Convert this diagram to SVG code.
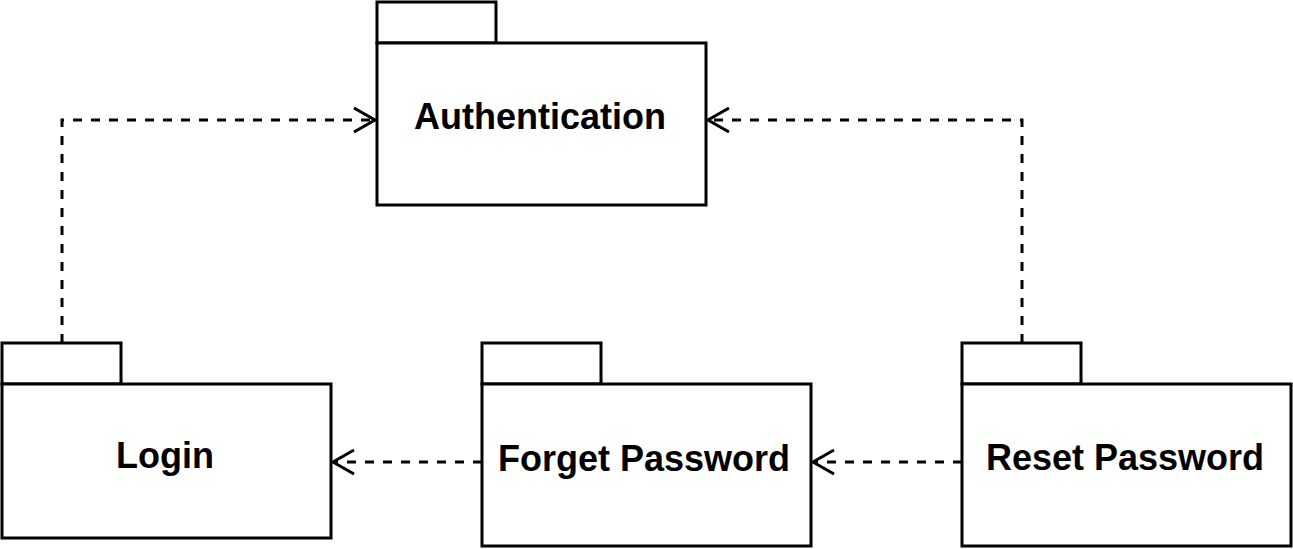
<svg xmlns="http://www.w3.org/2000/svg" width="1293" height="549" viewBox="0 0 1293 549">
  <style>
    .pkg { fill: #ffffff; stroke: #000000; stroke-width: 3; }
    .lbl { font-family: "Liberation Sans", Arial, sans-serif; font-weight: bold; font-size: 36px; fill: #000000; text-anchor: middle; }
    .dep { fill: none; stroke: #000000; stroke-width: 3; stroke-dasharray: 9 9; marker-end: url(#open); }
  </style>
  <defs>
    <marker id="open" markerUnits="userSpaceOnUse" markerWidth="30" markerHeight="30" viewBox="-24 -15 30 30" refX="0" refY="0" orient="auto" overflow="visible">
      <path d="M-21,-12 L0,0 L-21,12" fill="none" stroke="#000000" stroke-width="3"/>
    </marker>
  </defs>
  <rect width="1293" height="549" fill="#ffffff"/>
  <g id="connectors">
    <path class="dep" d="M62,343 V120 H375"/>
    <path class="dep" d="M1022,343 V120 H708"/>
    <path class="dep" d="M482,462 H333"/>
    <path class="dep" d="M962,462 H813"/>
  </g>
  <g id="authentication">
    <rect class="pkg" x="377" y="2" width="119" height="41"/>
    <rect class="pkg" x="377" y="43" width="329" height="162"/>
    <text class="lbl" x="540" y="129">Authentication</text>
  </g>
  <g id="login">
    <rect class="pkg" x="2" y="343" width="119" height="41"/>
    <rect class="pkg" x="2" y="384" width="329" height="154"/>
    <text class="lbl" x="165" y="468">Login</text>
  </g>
  <g id="forget-password">
    <rect class="pkg" x="482" y="343" width="119" height="41"/>
    <rect class="pkg" x="482" y="384" width="329" height="162"/>
    <text class="lbl" x="644" y="471">Forget Password</text>
  </g>
  <g id="reset-password">
    <rect class="pkg" x="962" y="343" width="119" height="41"/>
    <rect class="pkg" x="962" y="384" width="329" height="162"/>
    <text class="lbl" x="1125" y="470">Reset Password</text>
  </g>
</svg>
